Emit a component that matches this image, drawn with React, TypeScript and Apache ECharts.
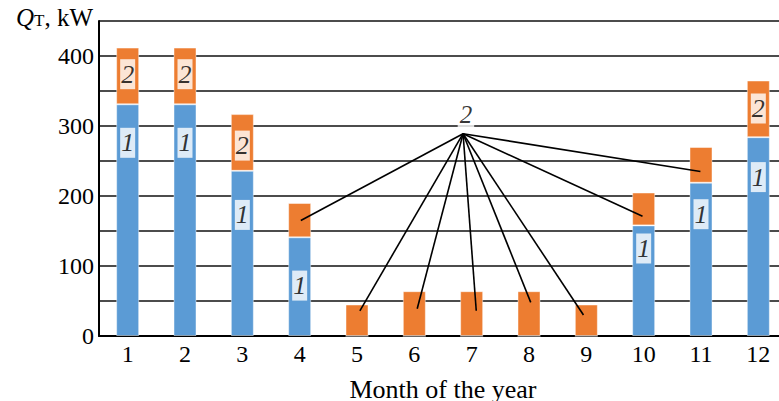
import { useEffect, useRef } from "react";
import * as echarts from "echarts";

// Months of the year on the category axis
const months = ["1", "2", "3", "4", "5", "6", "7", "8", "9", "10", "11", "12"];
// Component 1 of the heat load, kW
const load1 = [331, 331, 236, 141, 0, 0, 0, 0, 0, 158, 219, 284];
// Component 2 of the heat load, kW (stacked on top of component 1)
const load2 = [81, 81, 81, 49, 45, 64, 64, 64, 45, 47, 51, 81];

// In-bar tags: [month index, kW level of tag centre]
const tag1Pos = [
  [0, 276],
  [1, 276],
  [2, 173],
  [3, 72],
  [9, 125],
  [10, 174],
  [11, 227],
];
const tag2Pos = [
  [0, 374],
  [1, 374],
  [2, 272],
  [11, 325],
];

// Leader lines from the shared "2" callout to the small component-2 segments
const leaderHub = [5.85, 289];
const leaderTips = [
  [3.02, 165],
  [4.05, 36],
  [5.05, 39],
  [6.08, 36],
  [7.03, 48],
  [7.95, 30],
  [8.98, 171],
  [9.99, 235],
];
const calloutPos = [5.9, 316];

const yMin = 0;
const yMax = 450;
const yStep = 50;
const yLabelStep = 100;

const BLUE = "#5B9BD5";
const ORANGE = "#ED7D31";
const FONT = "'Liberation Serif', 'Times New Roman', serif";

export default function App() {
  const ref = useRef<HTMLDivElement>(null);

  useEffect(() => {
    if (!ref.current) return;
    const chart = echarts.init(ref.current, undefined, { renderer: "svg" });

    const tagLabel = {
      show: true,
      position: "inside",
      fontFamily: FONT,
      fontStyle: "italic",
      fontSize: 26,
      color: "#000",
      backgroundColor: "#fff",
      padding: [2, 1, 0, 1],
      lineHeight: 28,
    };

    const leaderSeries = leaderTips.map((tip) => ({
      type: "line",
      xAxisIndex: 1,
      yAxisIndex: 0,
      data: [leaderHub, tip],
      symbol: "none",
      silent: true,
      z: 5,
      lineStyle: { color: "#000", width: 1.6 },
    }));

    chart.setOption({
      animation: false,
      textStyle: { fontFamily: FONT },
      grid: { left: 99, top: 21, width: 688, height: 315, outerBoundsMode: "none", containLabel: false },
      xAxis: [
        {
          type: "category",
          data: months,
          axisLine: { show: true, onZero: false, lineStyle: { color: "#000", width: 2 } },
          axisTick: { show: false },
          axisLabel: { color: "#000", fontSize: 24, fontFamily: FONT, margin: 6 },
          name: "Month of the year",
          nameLocation: "middle",
          nameGap: 40,
          nameTextStyle: { color: "#000", fontSize: 26, fontFamily: FONT },
        },
        {
          type: "value",
          min: -0.5,
          max: 11.5,
          show: false,
        },
      ],
      yAxis: {
        type: "value",
        min: yMin,
        max: yMax,
        interval: yStep,
        axisLine: { show: true, onZero: false, lineStyle: { color: "#000", width: 2 } },
        axisTick: { show: false },
        axisLabel: {
          color: "#000",
          fontSize: 24,
          fontFamily: FONT,
          margin: 5,
          formatter: (v: number) => (v % yLabelStep === 0 && v < yMax ? String(v) : ""),
        },
        splitLine: { show: true, lineStyle: { color: "#111", width: 1.5 } },
      },
      graphic: [
        {
          type: "text",
          right: 779 - 93,
          top: 5,
          style: {
            text: "{q|Q}{t|T}{n|, kW}",
            rich: {
              q: { fontFamily: FONT, fontStyle: "italic", fontSize: 25, fill: "#000", lineHeight: 27, verticalAlign: "bottom" },
              t: { fontFamily: FONT, fontSize: 17, fill: "#000", lineHeight: 27, verticalAlign: "bottom", padding: [0, 0, 1, 0] },
              n: { fontFamily: FONT, fontSize: 25, fill: "#000", lineHeight: 27, verticalAlign: "bottom" },
            },
          },
        },
      ],
      series: [
        {
          type: "bar",
          stack: "load",
          data: load1,
          barWidth: 23,
          itemStyle: { color: BLUE, borderColor: "rgba(255,255,255,0.45)", borderWidth: 1 },
          z: 3,
        },
        {
          type: "bar",
          stack: "load",
          data: load2,
          barWidth: 23,
          itemStyle: { color: ORANGE, borderColor: "rgba(255,255,255,0.45)", borderWidth: 1 },
          z: 3,
        },
        {
          type: "scatter",
          data: tag1Pos,
          symbolSize: 0,
          silent: true,
          z: 6,
          label: { ...tagLabel, formatter: "1" },
        },
        {
          type: "scatter",
          data: tag2Pos,
          symbolSize: 0,
          silent: true,
          z: 6,
          label: { ...tagLabel, formatter: "2" },
        },
        ...leaderSeries,
        {
          type: "scatter",
          xAxisIndex: 1,
          data: [calloutPos],
          symbolSize: 0,
          silent: true,
          z: 6,
          label: {
            show: true,
            position: "inside",
            formatter: "2",
            fontFamily: FONT,
            fontStyle: "italic",
            fontSize: 25,
            color: "#000",
            backgroundColor: "#fff",
            padding: [0, 2],
          },
        },
      ],
    });

    return () => chart.dispose();
  }, []);

  return (
    <div
      ref={ref}
      style={{ position: "absolute", left: 0, top: 0, width: 779, height: 401, background: "#fff" }}
    />
  );
}
